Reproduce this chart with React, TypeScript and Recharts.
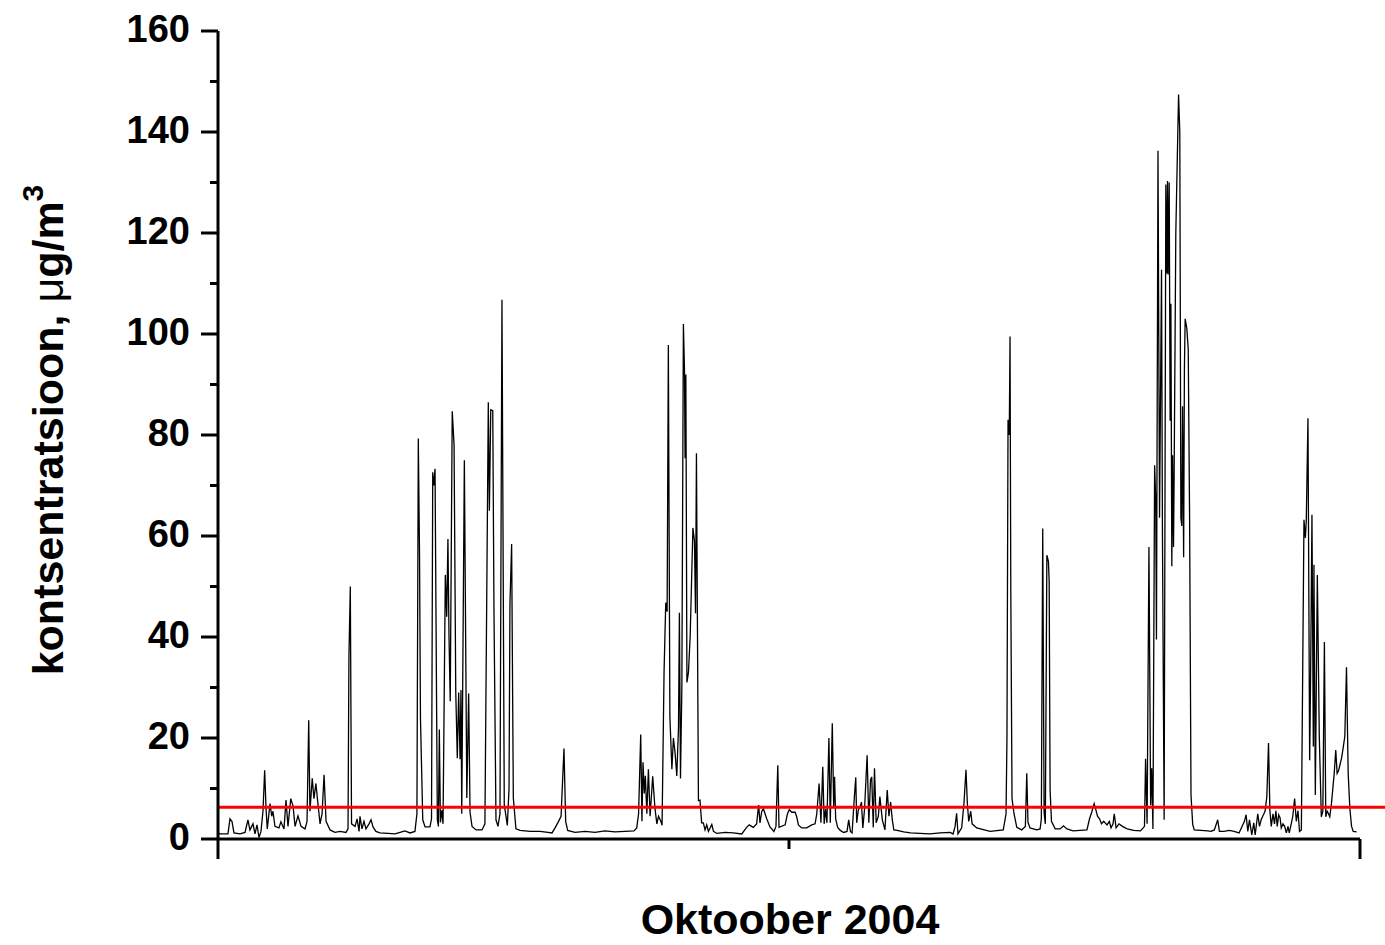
import React from 'react';
import { LineChart, Line, XAxis, YAxis, ReferenceLine } from 'recharts';

// hour of the month (0 = 1 Oct 2004 00:00) and concentration in µg/m3
const HOURS = [
  0.0, 1.3, 6.5, 7.8, 9.1, 10.4, 14.3, 17.6, 19.5, 20.8, 22.8, 24.1, 25.4, 26.7, 28.0, 29.3,
  30.4, 31.3, 32.1, 33.9, 35.0, 35.8, 37.1, 39.7, 41.0, 43.0, 44.3, 45.6, 47.4, 48.9, 50.2, 52.1,
  54.1, 56.7, 58.0, 59.1, 59.9, 61.4, 62.5, 63.8, 65.1, 66.5, 67.8, 69.1, 70.4, 73.0, 76.2, 79.5,
  83.4, 84.7, 85.3, 86.2, 87.0, 89.3, 90.6, 91.9, 92.5, 93.8, 95.1, 96.4, 98.4, 99.7, 101.0, 102.9,
  105.5, 110.8, 115.3, 118.6, 121.8, 125.1, 128.3, 129.6, 130.5, 131.3, 131.9, 133.4, 134.9, 138.1,
  139.1, 139.9, 140.6, 141.4, 142.9, 143.6, 144.2, 144.9, 145.8, 146.6, 148.1, 149.0, 149.8, 150.5,
  151.3, 152.6, 153.8, 154.9, 155.9, 156.8, 157.7, 158.3, 158.8, 160.5, 162.1, 163.3, 164.2, 165.5,
  168.1, 172.0, 173.9, 176.1, 176.8, 177.7, 179.0, 179.8, 181.1, 182.4, 183.7, 185.0, 186.5, 188.5,
  189.6, 190.2, 191.3, 192.4, 194.1, 196.8, 203.3, 209.8, 215.0,
  217.6, 219.6, 221.7, 223.5, 225.4, 226.5, 227.8, 232.6, 239.1, 245.6, 252.1, 258.6, 265.1, 271.0,
  272.8, 274.0, 275.4, 276.2, 276.9, 277.7, 278.4, 279.4, 280.4, 281.5, 283.2, 284.7, 285.9, 287.0,
  288.5, 289.3, 290.6, 291.7, 292.6, 293.4, 294.4, 295.7, 296.7, 297.8, 298.9, 300.0, 300.6, 301.3,
  302.2, 303.2, 303.9, 304.3, 304.8, 305.5, 306.5, 307.6, 309.4, 310.4, 311.1, 311.7, 313.0, 314.0,
  315.1, 316.2, 317.3, 318.4, 319.5, 321.7, 322.8, 325.0, 330.4, 335.6, 341.2, 344.4, 346.1, 348.7,
  350.9, 352.2, 353.1, 354.2, 355.3, 357.5, 359.6, 362.2, 363.5, 364.7, 365.5, 369.5, 371.0, 372.2,
  373.8, 376.0, 377.1, 378.1, 380.3, 383.6, 386.8, 389.0, 390.1, 391.6, 392.8, 394.0, 394.9, 395.8,
  396.7, 398.0, 398.9, 400.2, 401.1, 401.7, 402.4, 403.7, 405.4, 407.6, 409.8, 410.9, 412.0, 413.1,
  414.6, 415.5, 416.1, 417.2, 418.1, 419.2, 420.1, 421.2, 422.9, 424.0, 425.1, 425.9, 426.9, 427.7,
  428.8, 430.2, 431.2, 432.8, 434.5, 436.0, 437.1, 438.2, 439.3, 440.3, 442.5, 446.7, 451.2, 457.3,
  463.9, 470.4, 476.9, 478.9, 480.2, 481.2, 482.1, 484.5, 486.0, 487.3, 488.2, 489.1, 490.4, 491.3,
  494.3, 503.0, 511.6, 513.4, 514.0, 514.7, 515.5, 516.0, 516.5, 517.3, 518.6, 520.4, 523.6, 526.0,
  526.9, 527.7, 529.0, 533.4, 535.6, 536.4, 537.3, 538.2, 539.0, 540.0, 541.0, 541.5, 542.1, 543.0,
  545.4, 548.7, 550.8, 553.1, 557.1, 561.7, 566.1, 567.8, 569.3, 570.8, 571.7, 573.0, 574.3, 575.6,
  577.0, 579.2, 580.7, 581.8, 583.1, 583.9, 585.1, 587.0, 589.2, 592.3, 596.6, 601.0, 603.6, 604.3,
  605.3, 606.5, 607.6, 608.3, 609.1, 610.2, 610.9, 611.4, 612.4, 613.4, 614.7, 615.3, 616.4, 617.5,
  618.2, 618.6, 619.0, 619.7, 620.3, 620.8, 621.4, 621.9, 622.5, 622.9, 624.0, 625.8, 626.6, 627.3,
  627.9, 628.4, 629.1, 629.6, 630.1, 631.2, 632.1, 633.0, 633.9, 635.0, 636.0, 640.4, 644.8, 646.9,
  649.1, 651.3, 652.4, 655.4, 658.7, 662.0, 665.2, 668.7, 669.8, 670.9, 672.0, 673.5, 674.8, 675.7,
  677.4, 678.5, 679.6, 681.4, 682.2, 683.3, 684.4, 685.3, 686.2, 687.3, 688.3, 689.2, 690.1, 691.0,
  691.9, 692.7, 693.8, 694.9, 696.0, 697.1, 697.9, 699.2, 700.2, 701.4, 702.5, 703.6, 704.6, 705.8,
  707.5, 708.4, 709.0, 710.1, 711.2, 711.8, 712.7, 713.6, 714.0, 714.9, 716.2, 717.5, 718.8, 719.8,
  720.8, 721.7, 722.6, 723.5, 724.3, 725.4, 727.2, 728.2, 729.1, 730.0, 730.8, 732.0, 733.0, 734.1,
  735.2, 736.3, 737.4, 738.5, 739.6, 741.8,
];

const VALUES = [
  1.2, 1.0, 1.0, 4.0, 3.5, 1.2, 1.0, 1.3, 3.8, 1.8, 3.0, 1.0, 2.8, 0.3, 1.5, 5.5,
  13.6, 6.0, 2.0, 7.0, 4.5, 5.5, 2.5, 2.2, 3.4, 2.0, 7.7, 2.5, 8.0, 6.5, 2.5, 4.6,
  2.5, 2.0, 3.5, 23.5, 5.5, 12.0, 8.0, 11.0, 7.0, 3.0, 5.0, 12.7, 3.5, 1.8, 1.3, 1.5,
  1.3, 2.0, 36, 50, 3.0, 2.5, 4.0, 1.5, 4.5, 2.0, 3.5, 2.0, 3.0, 3.8, 2.4, 1.5,
  1.2, 1.1, 1.0, 1.3, 1.6, 1.2, 1.5, 5, 79.3, 56, 24, 3.8, 2.4, 2.4,
  4, 72.6, 70, 73.3, 3.8, 2.5, 21.7, 3.3, 5.7, 3.0, 52.3, 44, 59.4, 40,
  27.3, 84.7, 78, 29.1, 16, 29, 15.8, 29.5, 5, 75, 8.1, 28.8, 5.3, 2.5,
  1.8, 1.8, 3, 86.5, 65, 85, 84.8, 45, 3.8, 2.5, 5, 106.8, 6.8, 2.7,
  10, 46.6, 58.4, 8.1, 2.0, 1.7, 1.5, 1.5, 1.3,
  1.2, 2.2, 3.4, 4.5, 17.9, 3.5, 1.7, 1.3, 1.5, 1.3, 1.6, 1.4, 1.5, 1.6,
  2.2, 5, 20.7, 3.5, 15.2, 9, 12.5, 5, 13.8, 4.5, 12.4, 6, 3, 4.5,
  3.5, 2.7, 33, 46.8, 45, 97.8, 24.2, 13.8, 20, 17, 12.5, 22, 44.8, 12,
  30, 102, 93, 75.4, 92, 31, 33, 40, 61.6, 59, 44.7, 76.4, 7.6, 7.7,
  3.2, 3.2, 1.8, 2.8, 1.5, 2.9, 1.5, 1.1, 1.3, 1.2, 1.0, 2.3, 2.8, 2.3,
  3.0, 6.7, 3.2, 5.4, 6.0, 4.0, 2.4, 1.5, 2.5, 14.6, 2.3, 2.8, 5.0, 5.8,
  5.3, 5.3, 4.3, 2.8, 2.2, 2.2, 2.8, 3.0, 5.0, 11, 3.2, 14.3, 3.0, 6,
  3.2, 20, 3.2, 22.9, 6.5, 12.3, 4, 2.3, 1.7, 1.3, 1.5, 3.8, 1.5, 1.2,
  8.4, 12.2, 3.2, 5.8, 6.2, 7.3, 2.2, 5.8, 16.6, 3.2, 11.7, 12.3, 2.3, 14,
  3.2, 4.5, 8.4, 3.8, 1.8, 9.7, 4.5, 7.3, 3.8, 1.8, 1.7, 1.4, 1.2, 1.1,
  1.0, 1.2, 1.3, 1.0, 2.5, 5.1, 1.0, 2.2, 7.1, 13.7, 7, 3.5, 5.5, 3.0,
  2.2, 1.5, 1.8, 5, 20, 83, 80, 99.5, 49, 8, 5, 2.3, 1.8, 2.5,
  13, 3.3, 2.2, 1.8, 2.0, 4, 61.5, 5.2, 3.0, 56.2, 55, 51, 9.7, 3.5,
  2.0, 2.0, 2.6, 2.0, 1.6, 1.7, 1.8, 4.0, 5.4, 7.0, 6.0, 4.5, 4.0, 3.0,
  3.5, 2.8, 3.5, 2.2, 3.0, 5.0, 2.2, 3.0, 2.5, 2.0, 1.7, 1.6, 2.5, 15.9,
  3, 57.8, 6.7, 14, 2, 74, 67.4, 39.5, 136.3, 63.6, 112.7, 60, 3.8, 129.6,
  112, 130.3, 111.8, 130, 82.8, 106, 54, 76, 57.8, 71.6, 120, 147.4, 140, 63.6,
  62, 85.7, 55.8, 93, 103, 101, 97, 63, 8.7, 2.9, 1.8, 1.7, 1.6, 1.5,
  1.8, 3.8, 1.5, 1.5, 1.7, 1.5, 1.2, 3.5, 4.8, 1.5, 3.8, 0.8, 3.2, 0.8,
  5, 2.5, 3.8, 5, 5.6, 8.4, 19, 5.6, 2.5, 5, 3, 5.6, 2.5, 4.8,
  4.2, 2.2, 3, 2.5, 1.2, 2.5, 1.2, 3, 4.5, 8, 3.5, 5.6, 1.5, 1.8,
  63.2, 59.6, 63, 83.3, 15.6, 31.5, 64.2, 18.3, 54.3, 8.7, 52.3, 20, 4.4, 5.5,
  39, 4.4, 5.5, 5, 4.4, 7, 13, 17.6, 13, 13.5, 14.5, 16, 18, 20.3,
  34, 13, 6, 2.5, 1.5, 1.4,
];

const Y_TICKS = [0, 10, 20, 30, 40, 50, 60, 70, 80, 90, 100, 110, 120, 130, 140, 150, 160];
const X_TICKS = [0, 372, 744];
const LIMIT = 6.3;

const FONT = '"Liberation Sans", Arial, Helvetica, sans-serif';

const data = HOURS.map((h, i) => ({ h, v: VALUES[i] }));

const YTick = (props: any) => {
  const { x, y, payload } = props;
  const major = payload.value % 20 === 0;
  return (
    <g>
      <line x1={x} x2={x - (major ? 17 : 8)} y1={y} y2={y} stroke="#000" strokeWidth={3} />
      {major && (
        <text x={x - 28} y={y + 11} textAnchor="end" fontSize={38} fontWeight="bold" fontFamily={FONT} fill="#000">
          {payload.value}
        </text>
      )}
    </g>
  );
};

const XTick = (props: any) => {
  const { x, y, payload } = props;
  const major = payload.value !== 372;
  return <line x1={x} x2={x} y1={y} y2={y + (major ? 20 : 10)} stroke="#000" strokeWidth={3} />;
};

const yTitle = () => (
  <text
    x={48}
    y={430}
    transform="rotate(-90 48 430)"
    textAnchor="middle"
    dominantBaseline="central"
    fontSize={43}
    fontWeight="bold"
    fontFamily={FONT}
    fill="#000"
  >
    kontsentratsioon, <tspan fontWeight="normal">μ</tspan>g/m<tspan dy={-16} fontSize={30}>3</tspan>
  </text>
);

const xTitle = () => (
  <text x={790} y={934} textAnchor="middle" fontSize={43} fontWeight="bold" fontFamily={FONT} fill="#000">
    Oktoober 2004
  </text>
);

export default function App() {
  return (
    // placed at the page corner so the chart fills the whole window without scrolling
    <div style={{ position: 'absolute', left: 0, top: 0 }}>
      <LineChart width={1385} height={945} data={data} margin={{ top: 31, right: 25, left: 0, bottom: 46 }}>
        <XAxis
          dataKey="h"
          type="number"
          domain={[0, 744]}
          ticks={X_TICKS}
          interval={0}
          tickSize={0}
          tickMargin={0}
          tick={<XTick />}
          height={60}
          axisLine={{ stroke: '#000', strokeWidth: 3 }}
          label={xTitle}
        />
        <YAxis
          type="number"
          domain={[0, 160]}
          ticks={Y_TICKS}
          interval={0}
          tickSize={0}
          tickMargin={0}
          tick={<YTick />}
          width={218}
          axisLine={{ stroke: '#000', strokeWidth: 3 }}
          label={yTitle}
        />
        <Line
          type="linear"
          dataKey="v"
          stroke="#000"
          strokeWidth={1.3}
          dot={false}
          activeDot={false}
          isAnimationActive={false}
        />
        <ReferenceLine
          segment={[{ x: 0, y: LIMIT }, { x: 772, y: LIMIT }]}
          stroke="#ff0000"
          strokeWidth={3}
          ifOverflow="visible"
        />
      </LineChart>
    </div>
  );
}
